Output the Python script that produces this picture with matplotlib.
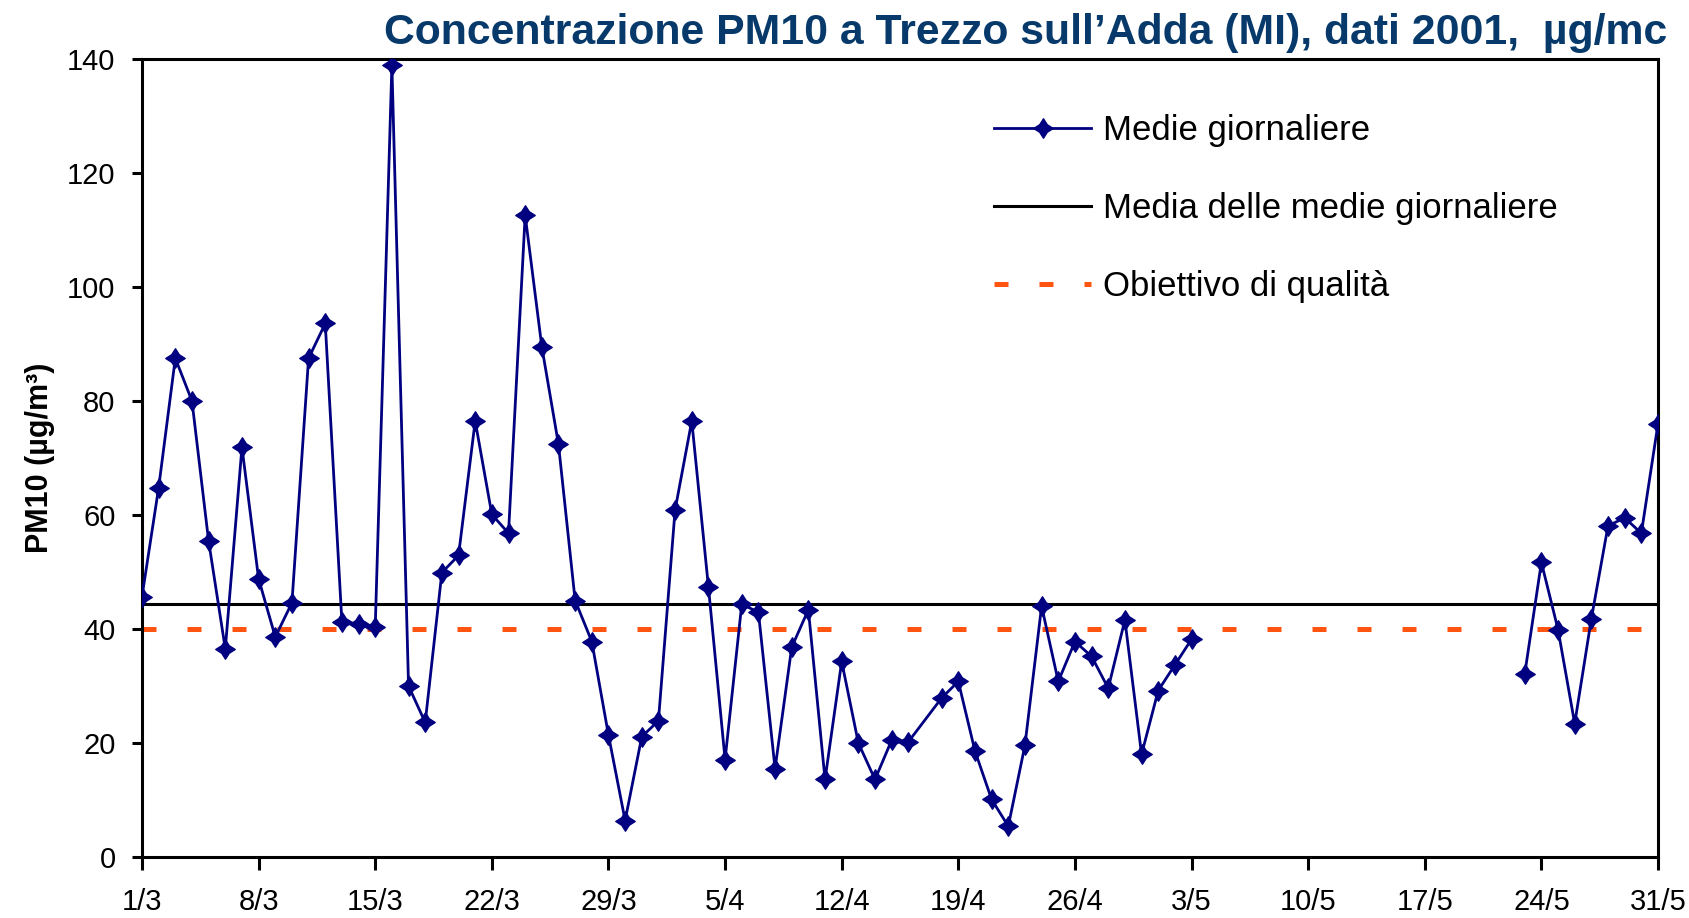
import matplotlib
matplotlib.use("Agg")
import matplotlib.pyplot as plt
from matplotlib.path import Path
import numpy as np
import pandas as pd

# PM10, medie giornaliere (ug/m3) - prima campagna 1/3 -> 3/5 (None = dato mancante)
start_1 = "2001-03-01"
pm10_1 = [45.7, 64.8, 87.5, 80.0, 55.4, 36.5, 71.9, 48.8, 38.6, 44.6,
          87.5, 93.6, 41.2, 40.9, 40.3, 138.9, 30.0, 23.6, 49.9, 52.9,
          76.5, 60.1, 56.8, 112.6, 89.5, 72.4, 45.0, 37.8, 21.4, 6.4,
          21.1, 23.9, 60.9, 76.5, 47.4, 17.1, 44.3, 43.0, 15.5, 36.8,
          43.4, 13.6, 34.3, 20.0, 13.6, 20.5, 20.2, None, 27.9, 30.8,
          18.6, 10.1, 5.4, 19.6, 44.0, 30.8, 37.8, 35.2, 29.6, 41.6,
          18.0, 29.2, 33.7, 38.2]

# seconda campagna 23/5 -> 31/5
start_2 = "2001-05-23"
pm10_2 = [32.1, 51.7, 39.9, 23.4, 41.8, 58.1, 59.5, 56.8, 76.0]

obiettivo = 40
x_start, x_end = "2001-03-01", "2001-05-31"
y_ticks = [0, 20, 40, 60, 80, 100, 120, 140]

title = "Concentrazione PM10 a Trezzo sull\u2019Adda (MI), dati 2001,  \u00b5g/mc"
labels = ["Medie giornaliere", "Media delle medie giornaliere", "Obiettivo di qualit\u00e0"]

navy = "#000080"
orange = "#FF5511"

plt.rcParams["font.family"] = ["Liberation Sans", "DejaVu Sans"]

s1 = pd.Series(pm10_1, index=pd.date_range(start_1, periods=len(pm10_1)), dtype=float).dropna()
s2 = pd.Series(pm10_2, index=pd.date_range(start_2, periods=len(pm10_2)), dtype=float).dropna()
media = np.mean(np.concatenate([s1.values, s2.values]))

# marcatore a stella a 4 punte (stile Excel)
ang = np.linspace(np.pi / 2, np.pi / 2 + 2 * np.pi, 9)
rad = np.array([1.0, 0.55] * 4 + [1.0])
star = Path(np.column_stack([rad * np.cos(ang), rad * np.sin(ang)]), closed=True)

fig = plt.figure(figsize=(16.9, 9.18), dpi=100)
ax = fig.add_axes([142 / 1690, 1 - 857 / 918, (1658 - 142) / 1690, (857 - 59) / 918])

ax.plot(s1.index, s1.values, color=navy, lw=2.0, marker=star, ms=14,
        label=labels[0], zorder=4)
ax.plot(s2.index, s2.values, color=navy, lw=2.0, marker=star, ms=14, zorder=4)
ax.axhline(media, color="black", lw=2.2, label=labels[1], zorder=3)
ax.axhline(obiettivo, color=orange, lw=3.6, dashes=(2.8, 6.2), label=labels[2], zorder=2)

ax.set_xlim(pd.Timestamp(x_start), pd.Timestamp(x_end))
ax.set_ylim(0, 140)
ax.set_yticks(y_ticks)
xt = pd.date_range(x_start, x_end, freq="7D")
ax.set_xticks(xt)
ax.set_xticklabels([f"{d.day}/{d.month}" for d in xt])

for sp in ax.spines.values():
    sp.set_linewidth(2.2)
ax.tick_params(axis="both", direction="out", width=2.2, labelsize=21)
ax.tick_params(axis="x", length=9, pad=13)
ax.tick_params(axis="y", length=7, pad=12)

ax.set_ylabel("PM10 (\u00b5g/m\u00b3)", fontsize=22, fontweight="bold", labelpad=9)

fig.text(1667 / 1690, 1 - 33 / 918, title, ha="right", va="center",
         fontsize=30.8, fontweight="bold", color="#073A6B")

ax.legend(loc="upper left", bbox_to_anchor=(994 / 1690, 1 - 114 / 918),
          bbox_transform=fig.transFigure, frameon=False, fontsize=25,
          handlelength=2.8, handletextpad=0.35, labelspacing=1.30,
          borderpad=0, borderaxespad=0)

fig.savefig("out.png", dpi=100)
